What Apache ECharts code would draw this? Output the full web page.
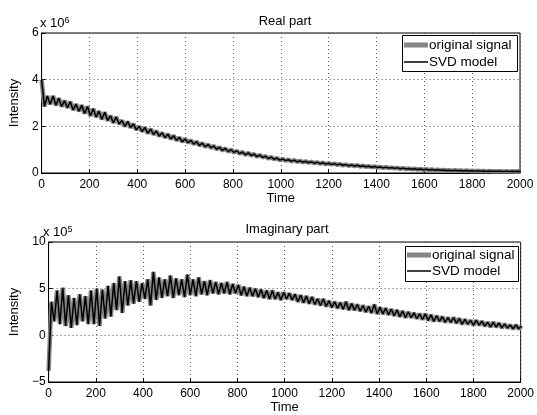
<!DOCTYPE html>
<html>
<head>
<meta charset="utf-8">
<script src="https://cdn.jsdelivr.net/npm/echarts@6/dist/echarts.min.js"></script>
<style>
  html, body { margin: 0; padding: 0; background: #fff; }
  #chart { width: 537px; height: 415px; }
</style>
</head>
<body>
<div id="chart"></div>
<script>
// sampling step of the time axis (one value every 12 time units)
var step = 12
var seriesNames = ['original signal', 'SVD model']

// real part, in units of 1e6
var realPart = [
  4.0, 2.85, 3.3, 2.95, 3.3, 2.9, 3.2, 2.85, 3.1, 2.8,
  3.05, 2.7, 2.95, 2.65, 2.9, 2.55, 2.85, 2.45, 2.75, 2.4,
  2.65, 2.3, 2.6, 2.25, 2.45, 2.15, 2.4, 2.1, 2.25, 2.0,
  2.2, 1.95, 2.1, 1.85, 2.0, 1.78, 1.95, 1.7, 1.88, 1.65,
  1.8, 1.58, 1.72, 1.52, 1.66, 1.46, 1.6, 1.4, 1.52, 1.34,
  1.46, 1.3, 1.4, 1.24, 1.34, 1.18, 1.28, 1.12, 1.22, 1.08,
  1.16, 1.02, 1.1, 0.97, 1.05, 0.92, 1.0, 0.88, 0.95, 0.83,
  0.9, 0.78, 0.86, 0.75, 0.81, 0.7, 0.77, 0.67, 0.72, 0.62,
  0.68, 0.59, 0.64, 0.55, 0.6, 0.53, 0.57, 0.5, 0.55, 0.48,
  0.52, 0.46, 0.5, 0.44, 0.48, 0.42, 0.46, 0.4, 0.44, 0.38,
  0.42, 0.37, 0.4, 0.35, 0.38, 0.33, 0.36, 0.31, 0.34, 0.3,
  0.33, 0.28, 0.31, 0.27, 0.29, 0.25, 0.28, 0.24, 0.26, 0.22,
  0.25, 0.21, 0.23, 0.2, 0.22, 0.18, 0.21, 0.17, 0.19, 0.16,
  0.18, 0.15, 0.17, 0.14, 0.16, 0.13, 0.15, 0.12, 0.14, 0.12,
  0.13, 0.11, 0.12, 0.1, 0.12, 0.1, 0.11, 0.09, 0.11, 0.09,
  0.1, 0.08, 0.1, 0.08, 0.09, 0.07, 0.09, 0.07, 0.08, 0.07,
  0.08, 0.06, 0.08, 0.06, 0.07, 0.06, 0.07, 0.06
]

// imaginary part, in units of 1e5
var imagPart = [
  -3.8, 3.6, 1.5, 4.8, 1.2, 5.1, 1.0, 4.3, 0.8, 4.0,
  1.1, 4.4, 1.5, 4.2, 1.2, 4.8, 1.2, 5.0, 1.0, 4.9,
  1.8, 5.3, 2.0, 5.6, 2.7, 6.3, 2.4, 5.8, 3.2, 5.9,
  3.4, 5.8, 3.6, 5.6, 3.9, 6.0, 3.2, 6.8, 3.8, 6.2,
  4.0, 6.0, 4.2, 6.4, 4.0, 6.1, 4.3, 6.0, 4.1, 6.5,
  4.3, 6.0, 4.2, 6.2, 4.4, 5.8, 4.3, 5.9, 4.5, 5.7,
  4.4, 5.6, 4.5, 5.7, 4.4, 5.5, 4.5, 5.4, 4.3, 5.2,
  4.2, 5.1, 4.2, 5.0, 4.1, 4.9, 4.0, 4.8, 3.9, 4.8,
  3.9, 4.6, 3.8, 4.6, 3.9, 4.5, 3.8, 4.4, 3.6, 4.3,
  3.5, 4.2, 3.4, 4.1, 3.3, 3.9, 3.2, 3.9, 3.1, 3.7,
  3.0, 3.6, 2.9, 3.5, 2.8, 3.6, 2.7, 3.4, 2.7, 3.3,
  2.6, 3.2, 2.5, 3.1, 2.4, 3.3, 2.3, 3.0, 2.3, 2.9,
  2.2, 2.8, 2.1, 2.7, 2.0, 2.6, 1.9, 2.5, 1.9, 2.4,
  1.8, 2.3, 1.7, 2.3, 1.6, 2.2, 1.5, 2.1, 1.5, 2.0,
  1.4, 1.9, 1.4, 1.9, 1.3, 1.8, 1.2, 1.7, 1.2, 1.6,
  1.1, 1.6, 1.1, 1.5, 1.0, 1.4, 0.9, 1.4, 0.9, 1.3,
  0.8, 1.2, 0.8, 1.1, 0.7, 1.1, 0.7, 1.0
]

function toPairs(arr) {
  return arr.map(function (v, i) { return [i * step, v] })
}

var font = 'Liberation Sans, Arial, sans-serif'
var grey = '#858585'

function tickFmt(v) {
  return v < 0 ? '\u2212' + (-v) : String(v)
}

function makeX(gridIndex) {
  return {
    type: 'value', gridIndex: gridIndex,
    min: 0, max: 2000, interval: 200,
    name: 'Time', nameLocation: 'middle', nameGap: 19,
    nameTextStyle: { color: '#000', fontSize: 13, fontFamily: font },
    axisLine: { show: true, onZero: false, lineStyle: { color: '#000', width: 1 } },
    axisTick: { show: true, inside: true, length: 4, lineStyle: { color: '#000' } },
    axisLabel: { color: '#000', fontSize: 12, fontFamily: font, margin: 6, formatter: tickFmt },
    splitLine: { show: true, lineStyle: { color: '#555', type: [1, 3], width: 1 } }
  }
}

function makeY(gridIndex, min, max, interval) {
  return {
    type: 'value', gridIndex: gridIndex,
    min: min, max: max, interval: interval,
    name: 'Intensity', nameLocation: 'middle', nameGap: 16, nameRotate: 90,
    nameTextStyle: { color: '#000', fontSize: 13, fontFamily: font },
    axisLine: { show: true, onZero: false, lineStyle: { color: '#000', width: 1 } },
    axisTick: { show: true, inside: true, length: 4, lineStyle: { color: '#000' } },
    axisLabel: { color: '#000', fontSize: 12, fontFamily: font, margin: 3, formatter: tickFmt },
    splitLine: { show: true, lineStyle: { color: '#555', type: [1, 3], width: 1 } }
  }
}

function makeSeries(data, idx) {
  return [
    {
      name: seriesNames[0], type: 'line', xAxisIndex: idx, yAxisIndex: idx,
      data: toPairs(data), symbol: 'none', animation: false,
      lineStyle: { color: grey, width: 4.5 }, itemStyle: { color: grey }
    },
    {
      name: seriesNames[1], type: 'line', xAxisIndex: idx, yAxisIndex: idx,
      data: toPairs(data), symbol: 'none', animation: false,
      lineStyle: { color: '#000', width: 1.5 }, itemStyle: { color: '#000' }
    }
  ]
}

// one legend per entry so each icon can get its own thickness
function makeLegend(name, left, top, h) {
  return {
    data: [{ name: name, icon: 'rect' }], left: left, top: top,
    padding: 0, itemWidth: 24, itemHeight: h, itemGap: 0,
    textStyle: { color: '#000', fontSize: 13.5, fontFamily: font, padding: [0, 0, 0, -4] },
    selectedMode: false
  }
}

var chart = echarts.init(document.getElementById('chart'))
chart.setOption({
  backgroundColor: '#fff',
  title: [
    { text: 'Real part', left: 280, top: 10, textAlign: 'center',
      textStyle: { fontSize: 13, fontWeight: 'normal', color: '#000', fontFamily: font } },
    { text: 'Imaginary part', left: 282, top: 218, textAlign: 'center',
      textStyle: { fontSize: 13, fontWeight: 'normal', color: '#000', fontFamily: font } }
  ],
  legend: [
    makeLegend(seriesNames[0], 404, 38, 5),
    makeLegend(seriesNames[1], 404, 55, 1.5),
    makeLegend(seriesNames[0], 407, 248, 5),
    makeLegend(seriesNames[1], 407, 264, 1.5)
  ],
  grid: [
    { left: 40, top: 33, width: 480, height: 140, show: true, borderColor: '#000', borderWidth: 1, backgroundColor: 'transparent' },
    { left: 43, top: 242, width: 479, height: 140, show: true, borderColor: '#000', borderWidth: 1, backgroundColor: 'transparent' }
  ],
  xAxis: [makeX(0), makeX(1)],
  yAxis: [makeY(0, 0, 6, 2), makeY(1, -5, 10, 5)],
  graphic: [
    { type: 'text', left: 40, top: 16, style: { text: 'x 10{s|6}', fontSize: 13, fontFamily: font, fill: '#000',
      rich: { s: { fontSize: 9, verticalAlign: 'top', padding: [0, 0, 6, 0] } } } },
    { type: 'text', left: 43, top: 225, style: { text: 'x 10{s|5}', fontSize: 13, fontFamily: font, fill: '#000',
      rich: { s: { fontSize: 9, verticalAlign: 'top', padding: [0, 0, 6, 0] } } } },
    // legend boxes
    { type: 'rect', shape: { x: 402.5, y: 35.5, width: 115, height: 36 }, z: 3,
      style: { fill: '#fff', stroke: '#000', lineWidth: 1 } },
    { type: 'rect', shape: { x: 405.5, y: 246.5, width: 113, height: 35 }, z: 3,
      style: { fill: '#fff', stroke: '#000', lineWidth: 1 } }
  ],
  series: makeSeries(realPart, 0).concat(makeSeries(imagPart, 1))
})
</script>
</body>
</html>
